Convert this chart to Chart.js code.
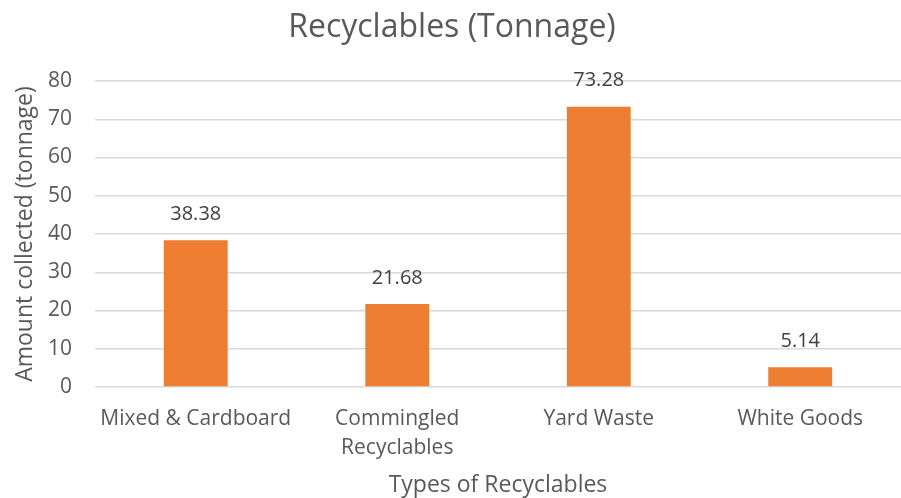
<!DOCTYPE html>
<html>
<head>
<meta charset="utf-8">
<script src="https://cdn.jsdelivr.net/npm/chart.js@4/dist/chart.umd.min.js"></script>
<style>
  html, body { margin: 0; padding: 0; background: #fff; }
  #wrap { width: 901px; height: 498px; }
</style>
</head>
<body>
<div id="wrap"><canvas id="recycleChart" width="901" height="498"></canvas></div>
<script>
// Data
var categories = ['Mixed & Cardboard', ['Commingled', 'Recyclables'], 'Yard Waste', 'White Goods'];
var tonnage = [38.38, 21.68, 73.28, 5.14];
var yTicks = [0, 10, 20, 30, 40, 50, 60, 70, 80];

var textColor = '#595959';
var gridColor = '#d9d9d9';
var fontFamily = '"Open Sans", "Liberation Sans", sans-serif';

// draws the value above each bar
var valueLabels = {
  id: 'valueLabels',
  afterDatasetsDraw: function (chart) {
    var ctx = chart.ctx;
    var meta = chart.getDatasetMeta(0);
    ctx.save();
    ctx.font = '20px ' + fontFamily;
    ctx.fillStyle = '#404040';
    ctx.textAlign = 'center';
    ctx.textBaseline = 'middle';
    meta.data.forEach(function (bar, i) {
      ctx.fillText(tonnage[i].toFixed(2), bar.x, bar.y - 26);
    });
    ctx.restore();
  }
};

var ctx = document.getElementById('recycleChart').getContext('2d');
var recycleChart = new Chart(ctx, {
  type: 'bar',
  data: {
    labels: categories,
    datasets: [{
      data: tonnage,
      backgroundColor: '#ED7D31',
      barPercentage: 0.317,
      categoryPercentage: 1
    }]
  },
  options: {
    responsive: false,
    animation: false,
    layout: { padding: { left: 0, right: -3, top: 0, bottom: 0 } },
    plugins: {
      legend: { display: false },
      tooltip: { enabled: false },
      title: {
        display: true,
        text: 'Recyclables (Tonnage)',
        color: textColor,
        font: { family: fontFamily, size: 32, weight: 'normal' },
        padding: { top: 9, bottom: 33.6 }
      }
    },
    scales: {
      x: {
        grid: { display: false, drawTicks: false },
        border: { display: false },
        ticks: {
          color: textColor,
          font: { family: fontFamily, size: 21, lineHeight: 1.38 },
          padding: 18,
          maxRotation: 0
        },
        title: {
          display: true,
          text: 'Types of Recyclables',
          color: textColor,
          font: { family: fontFamily, size: 23 },
          padding: { top: 0, bottom: -1 }
        },
        afterFit: function (scale) { scale.height = 111; }
      },
      y: {
        min: 0,
        max: 80,
        afterBuildTicks: function (scale) {
          scale.ticks = yTicks.map(function (v) { return { value: v }; });
        },
        grid: { color: gridColor, lineWidth: 1.5, drawTicks: false },
        border: { display: false },
        ticks: {
          color: textColor,
          font: { family: fontFamily, size: 21 },
          padding: 23
        },
        title: {
          display: true,
          text: 'Amount collected (tonnage)',
          color: textColor,
          font: { family: fontFamily, size: 23 },
          padding: { top: 12, bottom: 0 }
        },
        afterFit: function (scale) { scale.width = 95; }
      }
    }
  },
  plugins: [valueLabels]
});
</script>
</body>
</html>
